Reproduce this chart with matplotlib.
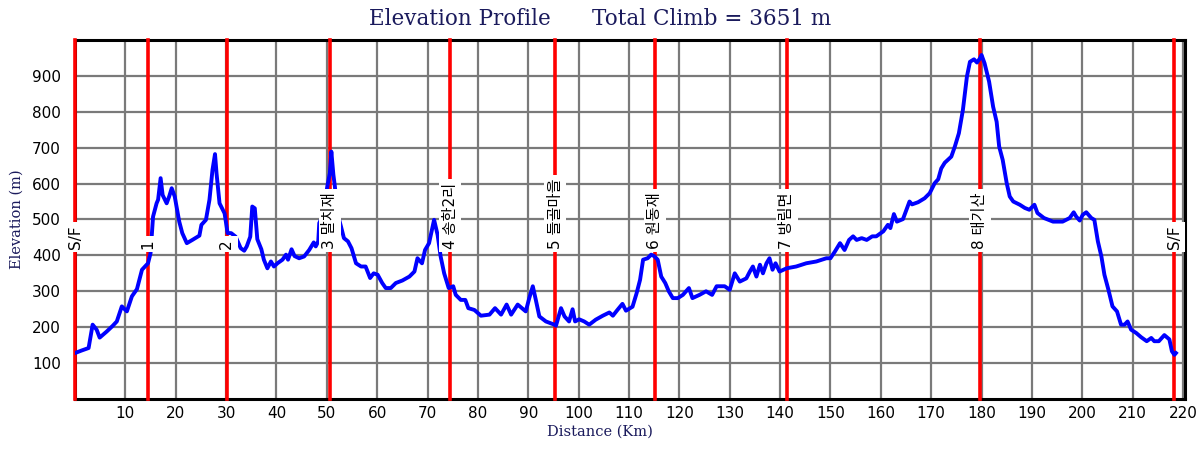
import matplotlib
matplotlib.use("Agg")
import matplotlib.pyplot as plt

# profile (km, m)
dist = [0, 1.3, 2.7, 3.5, 4.3, 4.9, 6.3, 7.5, 8.3, 9.3, 10.3, 11.3, 12.3, 13.3, 14.5,
        15.0, 15.5, 16.2, 16.5, 17.0, 17.4, 18.2, 18.7, 19.2, 19.8, 20.7, 21.3, 22.2,
        23.3, 24.7, 25.1, 26.0, 26.7, 27.3, 27.8, 28.1, 28.7, 29.7, 30.3, 31.0, 31.9,
        32.9, 33.6, 34.1, 34.8, 35.2, 35.7, 36.2, 37.0, 37.5, 38.2, 38.9, 39.5, 40.2,
        41.2, 41.9, 42.3, 43.0, 43.6, 44.5, 45.5, 46.5, 47.4, 47.8, 48.3, 48.5, 49.1,
        49.7, 50.1, 50.6, 50.9, 51.3, 51.6, 52.1, 52.8, 53.4, 54.2, 54.9, 55.8, 56.8,
        57.7, 58.6, 59.3, 60.1, 61.0, 61.7, 62.7, 63.7, 65.0, 66.4, 67.4, 68.0, 68.9,
        69.5, 70.3, 71.3, 72.0, 72.6, 73.3, 74.2, 75.1, 75.6, 76.6, 77.5, 78.1, 79.3,
        80.6, 82.3, 83.4, 84.6, 85.7, 86.6, 87.9, 89.5, 90.2, 90.9, 91.5, 92.2, 93.5,
        95.2, 95.5, 96.5, 97.2, 98.1, 98.8, 99.3, 100.1, 101.1, 102.1, 103.4, 104.8,
        106.1, 106.8, 107.7, 108.7, 109.4, 110.7, 111.5, 112.2, 112.8, 113.7, 114.4,
        115.0, 115.7, 116.4, 117.2, 117.9, 118.7, 119.7, 120.7, 121.9, 122.6, 124.0,
        125.3, 126.5, 127.4, 129.0, 130.0, 131.0, 132.0, 133.3, 134.0, 134.6, 135.3,
        136.0, 136.6, 137.3, 137.9, 138.5, 139.1, 139.9, 141.3, 143.2, 145.2, 147.2,
        149.2, 150.0, 150.9, 151.9, 152.8, 153.7, 154.5, 155.2, 156.2, 157.2, 158.3,
        159.1, 160.5, 161.4, 161.9, 162.6, 163.2, 164.4, 165.1, 165.7, 166.2, 167.4,
        168.7, 169.7, 170.7, 171.4, 172.0, 172.7, 174.0, 174.7, 175.5, 176.3, 177.1,
        177.7, 178.5, 179.1, 179.7, 180.0, 180.6, 181.5, 182.3, 183.0, 183.5, 184.2,
        185.0, 185.6, 186.3, 187.6, 188.6, 189.5, 190.5, 191.1, 192.4, 194.2, 196.1,
        197.5, 198.3, 198.8, 199.5, 200.1, 200.8, 201.8, 202.4, 203.1, 203.8, 204.4,
        205.2, 206.0, 206.9, 207.7, 208.4, 209.0, 209.7, 210.7, 211.7, 212.8, 213.7,
        214.3, 215.2, 216.3, 217.3, 217.8, 218.3, 218.6]
elev = [128, 135, 142, 207, 193, 171, 188, 204, 216, 258, 244, 286, 306, 360, 378,
        406, 508, 545, 555, 615, 568, 545, 564, 587, 564, 494, 462, 434,
        443, 455, 485, 499, 555, 638, 682, 629, 545, 517, 462, 462, 452,
        420, 413, 425, 452, 536, 531, 445, 417, 388, 364, 383, 369, 378,
        388, 402, 388, 417, 398, 392, 397, 415, 436, 425, 439, 490, 508,
        555, 592, 629, 689, 625, 592, 518, 481, 448, 439, 420, 378, 369,
        369, 337, 350, 346, 323, 309, 309, 323, 330, 341, 355, 392, 378,
        415, 434, 499, 457, 397, 350, 309, 314, 290, 276, 276, 253, 248,
        232, 235, 253, 235, 263, 235, 263, 244, 281, 314, 276, 230, 216,
        207, 204, 253, 230, 216, 250, 216, 222, 216, 207, 221, 232,
        241, 232, 248, 265, 246, 257, 294, 332, 388, 392, 402,
        398, 388, 341, 323, 300, 281, 281, 290, 309, 281, 290,
        300, 290, 314, 314, 304, 350, 327, 336, 355, 369, 341,
        374, 350, 378, 392, 360, 378, 355, 364, 369, 378, 383,
        392, 392, 411, 434, 415, 443, 453, 443, 448, 443, 453,
        453, 467, 485, 476, 515, 494, 501, 527, 550, 542, 548,
        559, 573, 601, 612, 642, 658, 675, 703, 740, 805, 898,
        939, 946, 937, 949, 958, 935, 884, 814, 772, 703, 666,
        601, 564, 550, 541, 532, 527, 541, 518, 504, 494, 494,
        504, 520, 508, 497, 513, 520, 504, 499, 439, 397, 346,
        304, 258, 244, 207, 207, 216, 193, 184, 172, 161, 170,
        161, 161, 178, 166, 133, 123, 128]

cp_km = [0, 14.5, 30.1, 50.6, 74.5, 95.4, 115.1, 141.3, 179.6, 218.3]
cp_names = ["S/F", "1", "2", "3 말치재", "4 송한2리", "5 들골마을", "6 원동재",
            "7 방림면", "8 태기산", "S/F"]

x_ticks = list(range(10, 221, 10))
y_ticks = list(range(100, 901, 100))
total_climb = 3651

navy = "#1a1a5c"

fig = plt.figure(figsize=(12, 4.5), dpi=100)
ax = fig.add_axes([0.0625, 0.1133, 0.925, 0.798])

ax.set_xlim(0, 220.4)
ax.set_ylim(0, 1000)
ax.set_xticks(x_ticks)
ax.set_yticks(y_ticks)
ax.tick_params(length=0, labelsize=11, colors="black")
ax.tick_params(axis="y", pad=10)
ax.tick_params(axis="x", pad=5)
ax.grid(True, color="#7a7a7a", lw=1.6)
ax.set_axisbelow(True)
for s in ax.spines.values():
    s.set_linewidth(2.2)
    s.set_color("black")

for km in cp_km:
    ax.axvline(km, color="red", lw=2.6, zorder=3, clip_on=False)

ax.plot(dist, elev, color="blue", lw=2.8, zorder=4, solid_joinstyle="round")

for km, name in zip(cp_km, cp_names):
    ax.text(km, 418, name, rotation=90, ha="center", va="bottom", fontsize=11,
            family=["DejaVu Sans", "Noto Sans CJK KR"], zorder=6,
            bbox=dict(facecolor="white", edgecolor="none", pad=2.5))

ax.set_ylabel("Elevation (m)", family="DejaVu Serif", fontsize=10.5, color=navy, labelpad=6)
fig.text(0.5, 0.04, "Distance (Km)", ha="center", va="center",
         family="DejaVu Serif", fontsize=10.5, color=navy)

fig.text(0.5, 0.958, "Elevation Profile      Total Climb = %d m" % total_climb,
         ha="center", va="center", family="DejaVu Serif", fontsize=15.5, color=navy)

fig.savefig("out.png", dpi=100)
